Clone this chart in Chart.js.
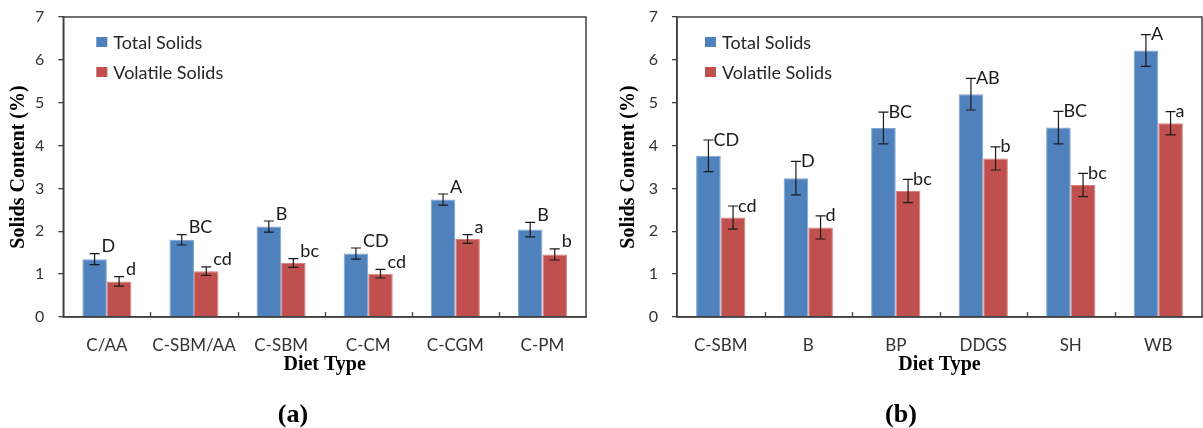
<!DOCTYPE html>
<html>
<head>
<meta charset="utf-8">
<script src="https://cdn.jsdelivr.net/npm/chart.js@4.4.1/dist/chart.umd.min.js"></script>
<style>
  html, body { margin: 0; padding: 0; background: #fff; }
  #wrap { position: relative; width: 1203px; height: 428px; }
  canvas { position: absolute; top: 0; }
</style>
</head>
<body>
<div id="wrap">
  <canvas id="chartA" width="600" height="428" style="left:0"></canvas>
  <canvas id="chartB" width="603" height="428" style="left:600px"></canvas>
</div>
<script>
// panel (a)
const catsA = ['C/AA', 'C-SBM/AA', 'C-SBM', 'C-CM', 'C-CGM', 'C-PM'];
const totalA = [1.35, 1.80, 2.11, 1.48, 2.74, 2.04];
const totalErrA = [0.13, 0.12, 0.13, 0.13, 0.13, 0.17];
const volA = [0.83, 1.07, 1.26, 1.01, 1.82, 1.46];
const volErrA = [0.11, 0.10, 0.10, 0.10, 0.10, 0.13];
const totalLetA = ['D', 'BC', 'B', 'CD', 'A', 'B'];
const volLetA = ['d', 'cd', 'bc', 'cd', 'a', 'b'];

// panel (b)
const catsB = ['C-SBM', 'B', 'BP', 'DDGS', 'SH', 'WB'];
const totalB = [3.76, 3.24, 4.41, 5.20, 4.42, 6.22];
const totalErrB = [0.37, 0.39, 0.37, 0.37, 0.38, 0.37];
const volB = [2.32, 2.09, 2.94, 3.70, 3.08, 4.52];
const volErrB = [0.27, 0.27, 0.27, 0.27, 0.27, 0.27];
const totalLetB = ['CD', 'D', 'BC', 'AB', 'BC', 'A'];
const volLetB = ['cd', 'd', 'bc', 'b', 'bc', 'a'];

const yTicks = [0, 1, 2, 3, 4, 5, 6, 7];

const blue = '#4F81BD', red = '#C0504D';
const sans = 'Lato';
const serif = '"Liberation Serif", "Times New Roman", serif';

// error bars, letters, inner x ticks, frame and the in-plot legend
const extras = {
  id: 'extras',
  afterDatasetsDraw(chart, args, o) {
    const ctx = chart.ctx, x = chart.scales.x, y = chart.scales.y;
    const a = chart.chartArea;
    ctx.save();
    ctx.strokeStyle = '#404040';
    ctx.lineWidth = 1.3;
    for (let i = 1; i < x.ticks.length; i++) {
      const px = Math.round((x.getPixelForTick(i - 1) + x.getPixelForTick(i)) / 2) + 0.5;
      ctx.beginPath();
      ctx.moveTo(px, a.bottom);
      ctx.lineTo(px, a.bottom - 5);
      ctx.stroke();
    }
    ctx.lineWidth = 1.5;
    ctx.strokeRect(a.left, a.top, a.right - a.left, a.bottom - a.top);

    chart.data.datasets.forEach((ds, di) => {
      chart.getDatasetMeta(di).data.forEach((bar, i) => {
        const v = ds.data[i], e = ds.err[i];
        const top = y.getPixelForValue(v + e), bot = y.getPixelForValue(v - e);
        const cx = bar.x;
        ctx.strokeStyle = '#1a1a1a';
        ctx.lineWidth = 1.2;
        ctx.beginPath();
        ctx.moveTo(cx, top); ctx.lineTo(cx, bot);
        ctx.moveTo(cx - 5, top); ctx.lineTo(cx + 5, top);
        ctx.moveTo(cx - 5, bot); ctx.lineTo(cx + 5, bot);
        ctx.stroke();
        ctx.fillStyle = '#1a1a1a';
        ctx.font = '18px ' + sans;
        ctx.textAlign = 'left';
        ctx.textBaseline = 'alphabetic';
        ctx.fillText(ds.letters[i], cx + o.letterDx, top + o.letterDy);
      });
      // legend entry
      const ly = a.top + 25 + 30 * di;
      ctx.fillStyle = ds.backgroundColor;
      ctx.fillRect(a.left + o.legendDx, ly - 5, 11, 10);
      ctx.fillStyle = '#262626';
      ctx.font = '18px ' + sans;
      ctx.textBaseline = 'alphabetic';
      ctx.fillText(ds.label, a.left + o.legendDx + 17, ly + 6.5);
    });
    ctx.restore();
  }
};

function makeChart(id, cats, total, totalErr, totalLet, vol, volErr, volLet, cfg) {
  return new Chart(document.getElementById(id), {
    type: 'bar',
    data: {
      labels: cats,
      datasets: [{
        label: 'Total Solids',
        data: total,
        err: totalErr,
        letters: totalLet,
        backgroundColor: blue,
        borderColor: '#7FA5D3',
        borderWidth: 1
      }, {
        label: 'Volatile Solids',
        data: vol,
        err: volErr,
        letters: volLet,
        backgroundColor: red,
        borderColor: '#D6817E',
        borderWidth: 1
      }]
    },
    options: {
      responsive: false,
      animation: false,
      categoryPercentage: 0.563,
      barPercentage: 1.0,
      layout: { padding: { top: 17, right: cfg.padRight, left: 0, bottom: 0 } },
      plugins: {
        legend: { display: false },
        tooltip: { enabled: false },
        title: {
          display: true,
          position: 'bottom',
          text: cfg.subtitle,
          color: '#000',
          font: { family: serif, size: 26, weight: 'bold', lineHeight: 1.2 },
          padding: { top: 22, bottom: -3 }
        },
        extras: { letterDx: cfg.letterDx, letterDy: cfg.letterDy, legendDx: cfg.legendDx }
      },
      scales: {
        x: {
          afterFit: s => { s.height = 60.8; },
          grid: { display: false },
          border: { display: true, color: '#404040', width: 1.5 },
          ticks: { color: '#333', font: { family: sans, size: 17 }, padding: 10, maxRotation: 0 },
          title: {
            display: true,
            text: 'Diet Type',
            color: '#000',
            font: { family: serif, size: 20, weight: 'bold', lineHeight: 1 },
            padding: { top: 0, bottom: 3 }
          }
        },
        y: {
          min: 0,
          max: 7,
          afterFit: s => { s.width = cfg.yWidth; s.paddingTop = 5; s.paddingBottom = 5; },
          afterBuildTicks: s => { s.ticks = yTicks.map(v => ({ value: v })); },
          grid: { drawOnChartArea: false, drawTicks: true, tickLength: 5, color: '#404040', lineWidth: 1.3 },
          border: { display: true, color: '#404040', width: 1.5 },
          ticks: { color: '#333', font: { family: sans, size: 16 }, padding: 14 },
          title: {
            display: true,
            text: 'Solids Content (%)',
            color: '#000',
            font: { family: serif, size: 20, weight: 'bold', lineHeight: 1.2 },
            padding: { top: cfg.yTitlePad, bottom: 0 }
          }
        }
      }
    },
    plugins: [extras]
  });
}

makeChart('chartA', catsA, totalA, totalErrA, totalLetA, volA, volErrA, volLetA,
  { yWidth: 63.3, padRight: 14, yTitlePad: 7, letterDx: 7, letterDy: -1.5, legendDx: 33, subtitle: '(a)' });
makeChart('chartB', catsB, totalB, totalErrB, totalLetB, volB, volErrB, volLetB,
  { yWidth: 77, padRight: 1, yTitlePad: 17, letterDx: 5, letterDy: 5.5, legendDx: 28, subtitle: '(b)' });
</script>
</body>
</html>
